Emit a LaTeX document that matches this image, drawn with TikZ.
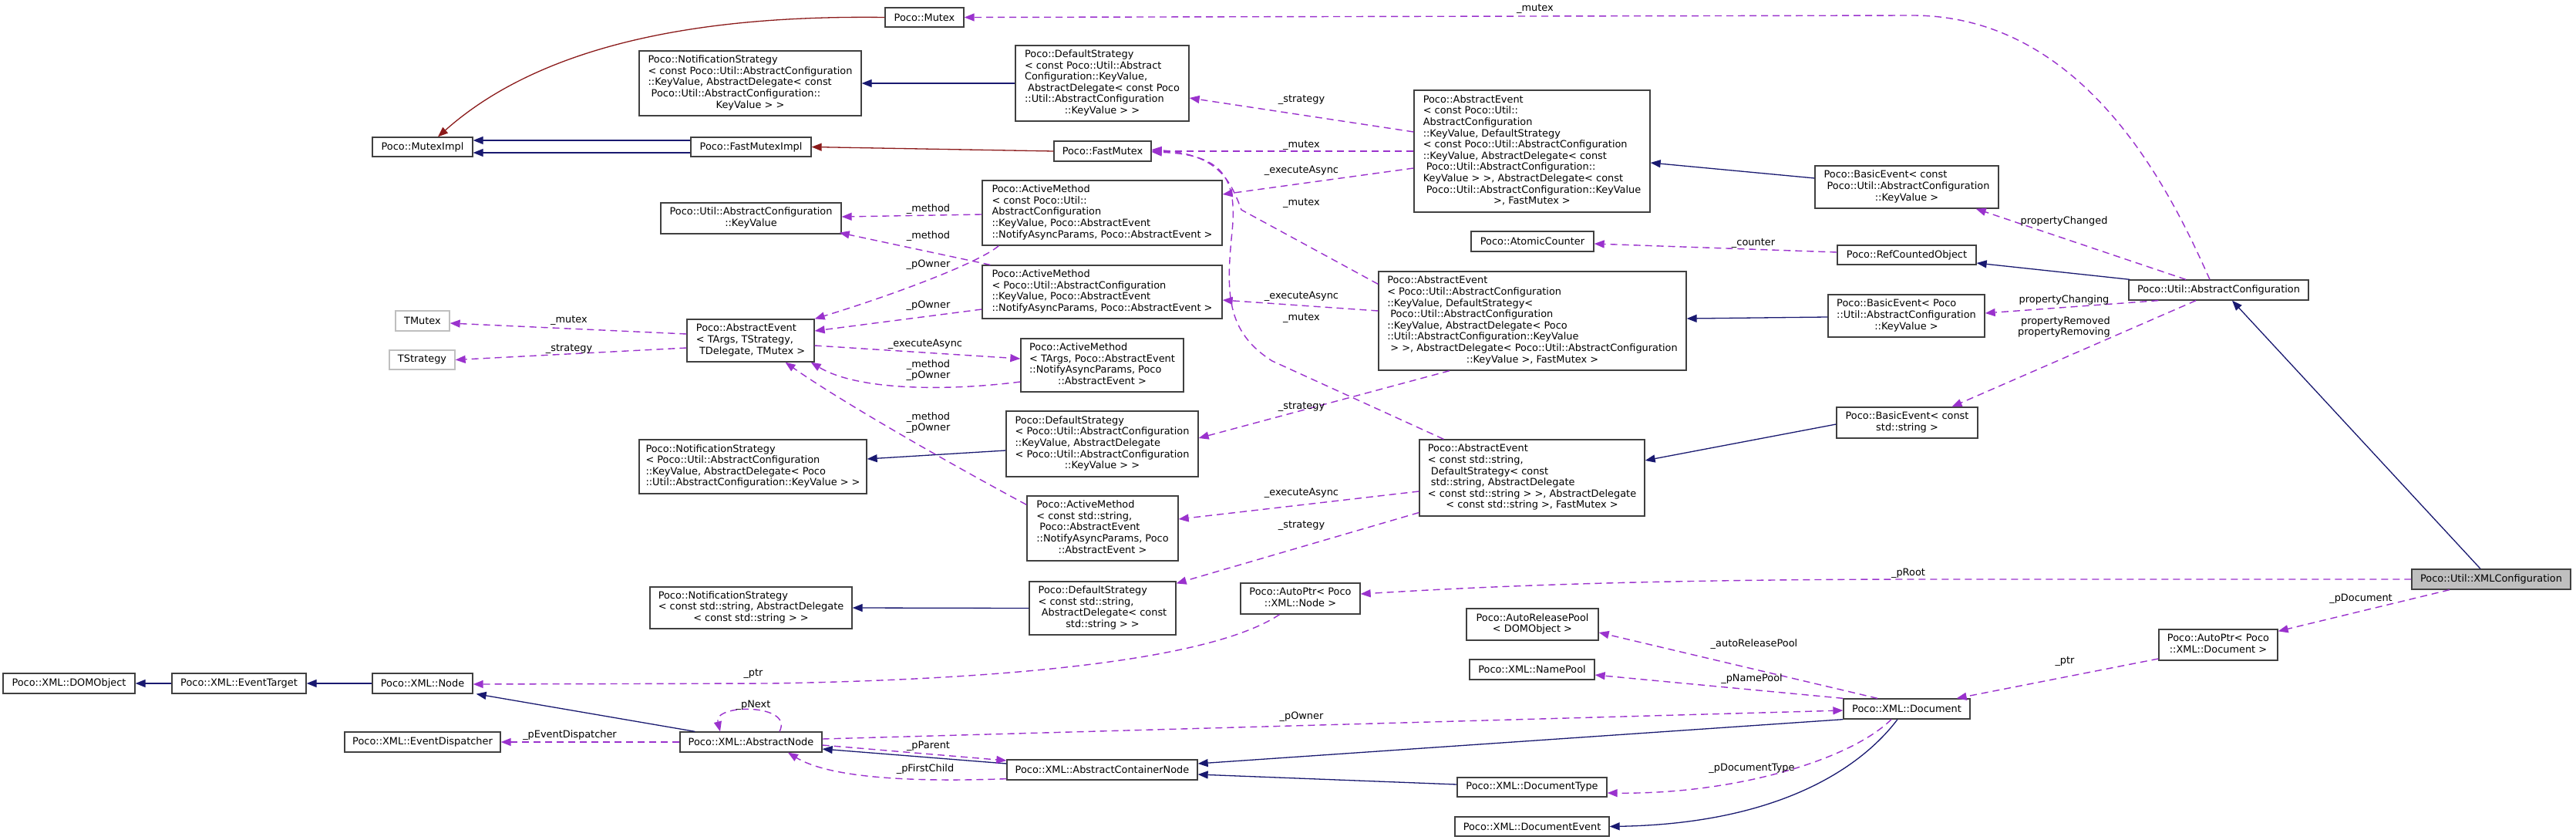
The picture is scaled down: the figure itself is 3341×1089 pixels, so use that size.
\documentclass[tikz,border=0pt]{standalone}
\usepackage{fontspec}
\setmainfont{DejaVu Sans}
\usetikzlibrary{arrows.meta,calc}
\definecolor{inh}{HTML}{191970}
\definecolor{priv}{HTML}{8B1A1A}
\definecolor{usec}{HTML}{9A32CD}
\definecolor{bord}{HTML}{404040}
\definecolor{lgray}{HTML}{BFBFBF}
\newcommand\dvs{\fontsize{12.9}{14.6}\selectfont}
\newcommand\mlt[2]{\begin{tabular}{@{}l@{}}#1\\\multicolumn{1}{@{}c@{}}{#2}\end{tabular}}
\newcommand\bx[7][]{\node[cls,#1,minimum width={#5-#3},minimum height={#6-#4}] (#2) at ({(#3+#5)/2},{(#4+#6)/2}) {#7};}
\begin{document}
\begin{tikzpicture}[x=1pt,y=-1pt,
  cls/.style={draw=bord,line width=1.3pt,fill=white,inner sep=0pt,font=\dvs,text=black},
  ext/.style={draw=lgray},
  inhe/.style={color=inh,line width=1.3pt,-{Triangle[length=13pt,width=10pt]}},
  prive/.style={color=priv,line width=1.3pt,-{Triangle[length=13pt,width=10pt]}},
  usee/.style={color=usec,line width=1.4pt,dash pattern=on 9pt off 6pt,-{Triangle[length=13pt,width=10pt]}},
  lbl/.style={font=\dvs,inner sep=0pt,text=black}]
\useasboundingbox (0,0) rectangle (3341,1089);
\fill[white] (0,0) rectangle (3341,1089);
% nodes
\bx{mutexImpl}{483}{178}{613}{203}{Poco::MutexImpl}
\bx{mutex}{1148}{10}{1250}{35}{Poco::Mutex}
\bx{ns1}{829}{66}{1117}{150}{\mlt{Poco::NotificationStrategy\\< const Poco::Util::AbstractConfiguration\\::KeyValue, AbstractDelegate< const\\\ Poco::Util::AbstractConfiguration::}{KeyValue > >}}
\bx{ds1}{1317}{59}{1542}{157}{\mlt{Poco::DefaultStrategy\\< const Poco::Util::Abstract\\Configuration::KeyValue,\\\ AbstractDelegate< const Poco\\::Util::AbstractConfiguration}{::KeyValue > >}}
\bx{fmImpl}{896}{178}{1052}{203}{Poco::FastMutexImpl}
\bx{fm}{1367}{183}{1493}{209}{Poco::FastMutex}
\bx{kv}{857}{263}{1091}{303}{\mlt{Poco::Util::AbstractConfiguration}{::KeyValue}}
\bx{am1}{1274}{234}{1585}{318}{\mlt{Poco::ActiveMethod\\< const Poco::Util::\\AbstractConfiguration\\::KeyValue, Poco::AbstractEvent}{::NotifyAsyncParams, Poco::AbstractEvent >}}
\bx{am2}{1274}{344}{1585}{413}{\mlt{Poco::ActiveMethod\\< Poco::Util::AbstractConfiguration\\::KeyValue, Poco::AbstractEvent}{::NotifyAsyncParams, Poco::AbstractEvent >}}
\bx{aet}{891}{414}{1056}{469}{\mlt{Poco::AbstractEvent\\< TArgs, TStrategy,}{\ TDelegate, TMutex >}}
\bx{am3}{1324}{439}{1535}{508}{\mlt{Poco::ActiveMethod\\< TArgs, Poco::AbstractEvent\\::NotifyAsyncParams, Poco}{::AbstractEvent >}}
\bx[ext]{tmutex}{513}{403}{583}{429}{TMutex}
\bx[ext]{tstrat}{505}{454}{590}{479}{TStrategy}
\bx{ns2}{829}{570}{1124}{640}{\mlt{Poco::NotificationStrategy\\< Poco::Util::AbstractConfiguration\\::KeyValue, AbstractDelegate< Poco}{::Util::AbstractConfiguration::KeyValue > >}}
\bx{ds2}{1305}{533}{1554}{618}{\mlt{Poco::DefaultStrategy\\< Poco::Util::AbstractConfiguration\\::KeyValue, AbstractDelegate\\< Poco::Util::AbstractConfiguration}{::KeyValue > >}}
\bx{am4}{1332}{643}{1528}{727}{\mlt{Poco::ActiveMethod\\< const std::string,\\\ Poco::AbstractEvent\\::NotifyAsyncParams, Poco}{::AbstractEvent >}}
\bx{ns3}{843}{761}{1105}{815}{\mlt{Poco::NotificationStrategy\\< const std::string, AbstractDelegate}{< const std::string > >}}
\bx{ds3}{1335}{754}{1525}{823}{\mlt{Poco::DefaultStrategy\\< const std::string,\\\ AbstractDelegate< const}{std::string > >}}
\bx{apNode}{1609}{756}{1764}{796}{\mlt{Poco::AutoPtr< Poco}{::XML::Node >}}
\bx{domObj}{4}{873}{175}{899}{Poco::XML::DOMObject}
\bx{evTarget}{223}{873}{397}{899}{Poco::XML::EventTarget}
\bx{xmlNode}{483}{873}{613}{899}{Poco::XML::Node}
\bx{evDisp}{447}{949}{649}{975}{Poco::XML::EventDispatcher}
\bx{absNode}{882}{949}{1066}{975}{Poco::XML::AbstractNode}
\bx{acn}{1306}{985}{1553}{1011}{Poco::XML::AbstractContainerNode}
\bx{ae1}{1834}{117}{2140}{275}{\mlt{Poco::AbstractEvent\\< const Poco::Util::\\AbstractConfiguration\\::KeyValue, DefaultStrategy\\< const Poco::Util::AbstractConfiguration\\::KeyValue, AbstractDelegate< const\\\ Poco::Util::AbstractConfiguration::\\KeyValue > >, AbstractDelegate< const\\\ Poco::Util::AbstractConfiguration::KeyValue}{>, FastMutex >}}
\bx{be1}{2354}{215}{2592}{270}{\mlt{Poco::BasicEvent< const\\\ Poco::Util::AbstractConfiguration}{::KeyValue >}}
\bx{atomic}{1908}{300}{2067}{326}{Poco::AtomicCounter}
\bx{rco}{2383}{318}{2563}{343}{Poco::RefCountedObject}
\bx{ae2}{1788}{352}{2187}{480}{\mlt{Poco::AbstractEvent\\< Poco::Util::AbstractConfiguration\\::KeyValue, DefaultStrategy<\\\ Poco::Util::AbstractConfiguration\\::KeyValue, AbstractDelegate< Poco\\::Util::AbstractConfiguration::KeyValue\\\ > >, AbstractDelegate< Poco::Util::AbstractConfiguration}{::KeyValue >, FastMutex >}}
\bx{be2}{2371}{382}{2574}{437}{\mlt{Poco::BasicEvent< Poco\\::Util::AbstractConfiguration}{::KeyValue >}}
\bx{be3}{2382}{528}{2565}{568}{\mlt{Poco::BasicEvent< const}{std::string >}}
\bx{ae3}{1841}{570}{2133}{669}{\mlt{Poco::AbstractEvent\\< const std::string,\\\ DefaultStrategy< const\\\ std::string, AbstractDelegate\\< const std::string > >, AbstractDelegate}{< const std::string >, FastMutex >}}
\bx{ac}{2761}{363}{2994}{389}{Poco::Util::AbstractConfiguration}
\bx[fill=lgray]{xmlc}{3128}{738}{3334}{764}{Poco::Util::XMLConfiguration}
\bx{apDoc}{2800}{816}{2954}{856}{\mlt{Poco::AutoPtr< Poco}{::XML::Document >}}
\bx{arp}{1902}{789}{2073}{830}{\mlt{Poco::AutoReleasePool}{< DOMObject >}}
\bx{namePool}{1906}{855}{2068}{881}{Poco::XML::NamePool}
\bx{doc}{2391}{906}{2555}{932}{Poco::XML::Document}
\bx{docType}{1890}{1008}{2084}{1033}{Poco::XML::DocumentType}
\bx{docEvent}{1887}{1059}{2087}{1084}{Poco::XML::DocumentEvent}
% inheritance (blue)
\draw[inhe] ($(fmImpl.west)+(0,-8.5)$) -- ($(mutexImpl.east)+(0,-8.5)$);
\draw[inhe] ($(fmImpl.west)+(0,7.5)$) -- ($(mutexImpl.east)+(0,7.5)$);
\draw[inhe] (ds1.west) -- (ns1.east);
\draw[inhe] ($(ds2.west)+(0,8.5)$) -- ($(ns2.east)+(0,-10)$);
\draw[inhe] (ds3.west) -- (ns3.east);
\draw[inhe] ($(be1.west)+(0,-11.5)$) -- ($(ae1.east)+(0,15)$);
\draw[inhe] ($(be2.west)+(0,1.5)$) -- ($(ae2.east)+(0,-3)$);
\draw[inhe] ($(be3.west)+(0,2)$) -- ($(ae3.east)+(0,-22.5)$);
\draw[inhe] ($(ac.north west)+(2,0)$) -- ($(rco.east)+(0,10.5)$);
\draw[inhe] ($(xmlc.north)+(-14,0)$) -- ($(ac.south)+(17.5,0)$);
\draw[inhe] (evTarget.west) -- (domObj.east);
\draw[inhe] (xmlNode.west) -- (evTarget.east);
\draw[inhe] ($(absNode.north west)+(20,0)$) -- ($(xmlNode.south east)+(4,0)$);
\draw[inhe] ($(acn.west)+(0,-8)$) -- ($(absNode.east)+(0,9)$);
\draw[inhe] (doc.south west) -- ($(acn.east)+(0,-8)$);
\draw[inhe] ($(docType.west)+(0,-3.5)$) -- ($(acn.east)+(0,6)$);
\draw[inhe] ($(doc.south)+(-12,0)$) .. controls (2410,1000) and (2300,1068) .. (docEvent.east);
% private inheritance (red)
\draw[prive] (mutex.west) .. controls (950,20) and (718,44) .. ($(mutexImpl.north)+(20,0)$);
\draw[prive] (fm.west) -- (fmImpl.east);
% usage (purple dashed)
\draw[usee] ($(ac.north)+(-11.5,0)$) .. controls (2820,260) and (2710,20) .. (2480,20) -- (mutex.east);
\draw[usee] ($(ae1.west)+(0,-25)$) -- ($(ds1.east)+(0,19)$);
\draw[usee] (ae1.west) -- (fm.east);
\draw[usee] ($(ae1.west)+(0,22)$) -- ($(am1.east)+(0,-24)$);
\draw[usee] ($(ae2.north west)+(0,17)$) -- (1610,272) .. controls (1596,234) and (1580,200) .. ($(fm.east)+(0,-2)$);
\draw[usee] ($(ae3.north west)+(32,0)$) -- (1650,468) .. controls (1590,430) and (1590,380) .. (1598,300) .. controls (1605,230) and (1585,200) .. ($(fm.east)+(0,1)$);
\draw[usee] ($(ae2.south)+(-107.5,0)$) -- ($(ds2.east)+(0,-7.5)$);
\draw[usee] ($(ae2.west)+(0,-13)$) -- ($(am2.east)+(0,10.5)$);
\draw[usee] ($(ae3.west)+(0,17.5)$) -- ($(am4.east)+(0,-12)$);
\draw[usee] ($(ae3.west)+(0,45)$) -- ($(ds3.north east)+(0,3)$);
\draw[usee] ($(am1.west)+(0,2)$) -- ($(kv.east)+(0,-2)$);
\draw[usee] ($(am2.north west)+(11,0)$) -- ($(kv.south east)+(-3,-2)$);
\draw[usee] ($(am1.south west)+(22,0)$) .. controls (1268,342) and (1150,385) .. (aet.north east);
\draw[usee] ($(am2.west)+(0,22.5)$) -- ($(aet.east)+(0,-12.5)$);
\draw[usee] ($(aet.east)+(0,6.5)$) -- ($(am3.west)+(0,-8.5)$);
\draw[usee] ($(am3.west)+(0,21.5)$) .. controls (1220,508) and (1110,505) .. ($(aet.south east)+(-5,0)$);
\draw[usee] ($(am4.north west)+(0,12)$) .. controls (1230,600) and (1090,520) .. ($(aet.south)+(45,0)$);
\draw[usee] ($(aet.west)+(0,-8.5)$) -- ($(tmutex.east)+(0,3)$);
\draw[usee] ($(aet.west)+(0,9.5)$) -- (tstrat.east);
\draw[usee] ($(rco.west)+(0,-3.5)$) -- ($(atomic.east)+(0,3)$);
\draw[usee] ($(ac.north)+(-42.5,0)$) -- ($(be1.south east)+(-30,0)$);
\draw[usee] ($(ac.south west)+(39,0)$) -- ($(be2.east)+(0,-3.5)$);
\draw[usee] ($(ac.south)+(-29.5,0)$) -- ($(be3.north)+(58,0)$);
\draw[usee] (xmlc.west) -- (2500,751) .. controls (2100,751) and (1900,762) .. ($(apNode.east)+(0,-6)$);
\draw[usee] ($(xmlc.south)+(-54,0)$) -- ($(apDoc.north east)+(0,3)$);
\draw[usee] ($(apDoc.west)+(0,18)$) -- ($(doc.north east)+(-18,0)$);
\draw[usee] ($(apNode.south)+(-27,0)$) .. controls (1580,850) and (1350,880) .. (1000,886) -- ($(xmlNode.east)+(0,1)$);
\draw[usee] (absNode.west) -- (evDisp.east);
\draw[usee] ($(absNode.north)+(37,0)$) .. controls (1030,912) and (925,912) .. ($(absNode.north)+(-40,0)$);
\draw[usee] ($(absNode.east)+(0,4)$) -- ($(acn.west)+(0,-12)$);
\draw[usee] ($(acn.south west)+(0,-2)$) .. controls (1160,1015) and (1070,1005) .. ($(absNode.south)+(48,0)$);
\draw[usee] ($(absNode.east)+(0,-4)$) -- ($(doc.west)+(0,2)$);
\draw[usee] ($(doc.north)+(-38,0)$) -- ($(arp.east)+(0,10.5)$);
\draw[usee] (doc.north west) -- ($(namePool.east)+(0,7)$);
\draw[usee] ($(doc.south)+(-20,0)$) .. controls (2400,985) and (2250,1030) .. ($(docType.east)+(0,7.5)$);
% labels
\node[lbl] (l1) at (1991,11) {\_mutex};
\node[lbl] (l2) at (1688,129) {\_strategy};
\node[lbl] (l3) at (1688,188) {\_mutex};
\node[lbl] (l4) at (1688,221) {\_executeAsync};
\node[lbl] (l5) at (1688,263) {\_mutex};
\node[lbl] (l6) at (1688,384) {\_executeAsync};
\node[lbl] (l7) at (1688,412) {\_mutex};
\node[lbl] (l8) at (1688,527) {\_strategy};
\node[lbl] (l9) at (1688,639) {\_executeAsync};
\node[lbl] (l10) at (1688,681) {\_strategy};
\node[lbl] (l11) at (1204,271) {\_method};
\node[lbl] (l12) at (1204,306) {\_method};
\node[lbl] (l13) at (1204,343) {\_pOwner};
\node[lbl] (l14) at (1204,396) {\_pOwner};
\node[lbl] (l15) at (1200,446) {\_executeAsync};
\node[lbl,align=center] (l16) at (1204,480) {\_method\\\_pOwner};
\node[lbl,align=center] (l17) at (1204,548) {\_method\\\_pOwner};
\node[lbl] (l18) at (738,415) {\_mutex};
\node[lbl] (l19) at (738,452) {\_strategy};
\node[lbl] (l20) at (2274,315) {\_counter};
\node[lbl] (l21) at (2677,287) {propertyChanged};
\node[lbl] (l22) at (2677,389) {propertyChanging};
\node[lbl,align=right] (l23) at (2677,424) {propertyRemoved\\propertyRemoving};
\node[lbl] (l24) at (2475,743) {\_pRoot};
\node[lbl] (l25) at (3062,776) {\_pDocument};
\node[lbl] (l26) at (2678,857) {\_ptr};
\node[lbl] (l27) at (977,873) {\_ptr};
\node[lbl] (l28) at (739,953) {\_pEventDispatcher};
\node[lbl] (l29) at (977,914) {\_pNext};
\node[lbl] (l30) at (1204,967) {\_pParent};
\node[lbl] (l31) at (1200,997) {\_pFirstChild};
\node[lbl] (l32) at (1688,929) {\_pOwner};
\node[lbl] (l33) at (2275,835) {\_autoReleasePool};
\node[lbl] (l34) at (2272,880) {\_pNamePool};
\node[lbl] (l35) at (2272,996) {\_pDocumentType};
\end{tikzpicture}
\end{document}
